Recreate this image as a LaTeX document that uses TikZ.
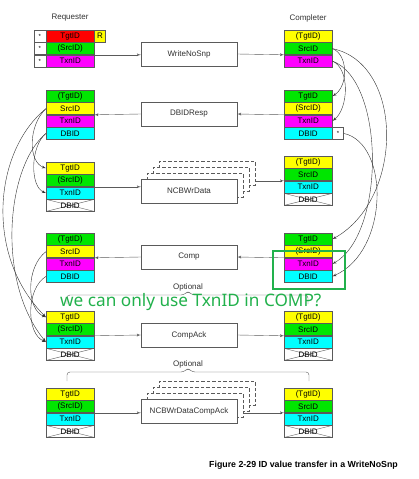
\documentclass[tikz,border=0pt]{standalone}
\usepackage{fontspec}
\setmainfont{Liberation Sans}
\newfontfamily\notefont{Noto Sans}
\usepackage{xcolor}
\usetikzlibrary{arrows,positioning,calc}
\definecolor{cellgray}{RGB}{90,90,90}
\definecolor{labelgray}{RGB}{50,50,50}
\definecolor{fldred}{RGB}{255,0,0}
\definecolor{fldyel}{RGB}{255,255,0}
\definecolor{fldgrn}{RGB}{0,230,0}
\definecolor{fldmag}{RGB}{255,0,255}
\definecolor{fldcyan}{RGB}{0,255,255}
\definecolor{notegreen}{RGB}{34,177,76}

\begin{document}
\begin{tikzpicture}[x=1pt,y=-1pt,>=latex',every node/.style={font=\fontsize{8}{9}\selectfont},
  fld/.style={draw=cellgray,minimum width=48pt,minimum height=12pt,inner sep=0pt},
  voidfld/.style={fld,fill=white,path picture={\draw[cellgray] (path picture bounding box.north west)--(path picture bounding box.south east) (path picture bounding box.south west)--(path picture bounding box.north east);}},
  starcell/.style={draw=cellgray,fill=white,minimum width=12pt,minimum height=12pt,inner sep=0pt,font=\fontsize{6}{6}\selectfont},
  msgbox/.style={draw=cellgray,fill=white,minimum width=96pt,minimum height=24pt,inner sep=0pt,text=labelgray},
  ghost/.style={msgbox,dash pattern=on 3.5pt off 2pt},
  flow/.style={->,cellgray},
  idlink/.style={->,black!80,thin}]
\useasboundingbox (0,0) rectangle (418,479);
% headings
\node[text=labelgray] (req) at (70,18) {Requester};
\node[text=labelgray] (cmp) at (308,18) {Completer};
% WriteNoSnp
\node[fld,fill=fldred,anchor=north west] (rq1a) at (46,30) {TgtID};
\node[fld,fill=fldgrn,below=0pt of rq1a] (rq1b) {(SrcID)};
\node[fld,fill=fldmag,below=0pt of rq1b] (rq1c) {TxnID};
\node[starcell,left=0pt of rq1a] (rq1sa) {*};
\node[starcell,left=0pt of rq1b] (rq1sb) {*};
\node[starcell,left=0pt of rq1c] (rq1sc) {*};
\node[starcell,fill=fldyel,minimum width=11pt,font=\fontsize{8}{9}\selectfont,right=0pt of rq1a] (rq1r) {R};
\node[fld,fill=fldyel,anchor=north west] (cp1a) at (284,30) {(TgtID)};
\node[fld,fill=fldgrn,below=0pt of cp1a] (cp1b) {SrcID};
\node[fld,fill=fldmag,below=0pt of cp1b] (cp1c) {TxnID};
\node[msgbox] (msg1) at (189,54) {WriteNoSnp};
\draw[flow](rq1b.south east)--(rq1b.south east -| msg1.west); \draw[flow](msg1.east)--(cp1c.north west);
% DBIDResp
\node[fld,fill=fldgrn,anchor=north west] (rq2a) at (46,90) {(TgtID)};
\node[fld,fill=fldyel,below=0pt of rq2a] (rq2b) {SrcID};
\node[fld,fill=fldmag,below=0pt of rq2b] (rq2c) {TxnID};
\node[fld,fill=fldcyan,below=0pt of rq2c] (rq2d) {DBID};
\node[fld,fill=fldgrn,anchor=north west] (cp2a) at (284,90) {TgtID};
\node[fld,fill=fldyel,below=0pt of cp2a] (cp2b) {(SrcID)};
\node[fld,fill=fldmag,below=0pt of cp2b] (cp2c) {TxnID};
\node[fld,fill=fldcyan,below=0pt of cp2c] (cp2d) {DBID};
\node[starcell,minimum width=11pt,right=0pt of cp2d] (cp2s) {*};
\node[msgbox] (msg2) at (189,114) {DBIDResp};
\draw[flow](cp2c.north west)--(msg2.east); \draw[flow](msg2.west)--(rq2c.north east);
% NCBWrData
\node[fld,fill=fldyel,anchor=north west] (rq3a) at (46,162) {TgtID};
\node[fld,fill=fldgrn,below=0pt of rq3a] (rq3b) {(SrcID)};
\node[fld,fill=fldcyan,below=0pt of rq3b] (rq3c) {TxnID};
\node[voidfld,below=0pt of rq3c] (rq3d) {DBID};
\node[fld,fill=fldyel,anchor=north west] (cp3a) at (284,156) {(TgtID)};
\node[fld,fill=fldgrn,below=0pt of cp3a] (cp3b) {SrcID};
\node[fld,fill=fldcyan,below=0pt of cp3b] (cp3c) {TxnID};
\node[voidfld,below=0pt of cp3c] (cp3d) {DBID};
\node[ghost] (msg3s3) at (207,173) {};
\node[ghost] (msg3s2) at (201,179) {};
\node[ghost] (msg3s1) at (195,185) {};
\node[msgbox] (msg3) at (189,191) {NCBWrData};
\draw[flow](rq3c.north east)--(rq3c.north east -| msg3.west); \draw[flow](cp3b.south west -| msg3s3.east)--(cp3b.south west);
% Comp
\node[fld,fill=fldgrn,anchor=north west] (rq4a) at (46,233) {(TgtID)};
\node[fld,fill=fldyel,below=0pt of rq4a] (rq4b) {SrcID};
\node[fld,fill=fldmag,below=0pt of rq4b] (rq4c) {TxnID};
\node[fld,fill=fldcyan,below=0pt of rq4c] (rq4d) {DBID};
\node[fld,fill=fldgrn,anchor=north west] (cp4a) at (284,233) {TgtID};
\node[fld,fill=fldyel,below=0pt of cp4a] (cp4b) {(SrcID)};
\node[fld,fill=fldmag,below=0pt of cp4b] (cp4c) {TxnID};
\node[fld,fill=fldcyan,below=0pt of cp4c] (cp4d) {DBID};
\node[msgbox] (msg4) at (189,257) {Comp};
\draw[flow](cp4c.north west)--(msg4.east); \draw[flow](msg4.west)--(rq4c.north east);
% CompAck
\node[fld,fill=fldyel,anchor=north west] (rq5a) at (46,311) {TgtID};
\node[fld,fill=fldgrn,below=0pt of rq5a] (rq5b) {(SrcID)};
\node[fld,fill=fldcyan,below=0pt of rq5b] (rq5c) {TxnID};
\node[voidfld,below=0pt of rq5c] (rq5d) {DBID};
\node[fld,fill=fldyel,anchor=north west] (cp5a) at (284,311) {(TgtID)};
\node[fld,fill=fldgrn,below=0pt of cp5a] (cp5b) {SrcID};
\node[fld,fill=fldcyan,below=0pt of cp5b] (cp5c) {TxnID};
\node[voidfld,below=0pt of cp5c] (cp5d) {DBID};
\node[msgbox] (msg5) at (189,335) {CompAck};
\draw[flow](rq5c.north east)--(msg5.west); \draw[flow](msg5.east)--(cp5c.north west);
% NCBWrDataCompAck
\node[fld,fill=fldyel,anchor=north west] (rq6a) at (46,388) {TgtID};
\node[fld,fill=fldgrn,below=0pt of rq6a] (rq6b) {(SrcID)};
\node[fld,fill=fldcyan,below=0pt of rq6b] (rq6c) {TxnID};
\node[voidfld,below=0pt of rq6c] (rq6d) {DBID};
\node[fld,fill=fldyel,anchor=north west] (cp6a) at (284,388) {(TgtID)};
\node[fld,fill=fldgrn,below=0pt of cp6a] (cp6b) {SrcID};
\node[fld,fill=fldcyan,below=0pt of cp6b] (cp6c) {TxnID};
\node[voidfld,below=0pt of cp6c] (cp6d) {DBID};
\node[ghost] (msg6s3) at (207,393) {};
\node[ghost] (msg6s2) at (201,399) {};
\node[ghost] (msg6s1) at (195,405) {};
\node[msgbox] (msg6) at (189,411) {NCBWrDataCompAck};
\draw[flow](rq6c.north east)--(rq6c.north east -| msg6.west); \draw[flow](cp6c.north west -| msg6s1.east)--(cp6c.north west);
% optional braces
\node[text=labelgray] (opt1) at (188,287) {Optional};
\draw[cellgray,rounded corners=3pt] (67,304)--(67,295)--(184,295)--(188,291)--(192,295)--(308,295)--(308,304);
\node[text=labelgray] (opt2) at (188,364) {Optional};
\draw[cellgray,rounded corners=3pt] (67,381)--(67,372)--(184,372)--(188,368)--(192,372)--(309,372)--(309,381);
% ID hand-over, requester side
\draw[idlink](rq2b.west) .. controls +(-18,17) and +(-18,-6) .. (rq3a.west);
\draw[idlink](rq2d.west) .. controls +(-16,13) and +(-16,-6) .. (rq3c.west);
\draw[idlink](rq2b.west) .. controls +(-52,42) and +(-62,-62) .. (rq5a.west);
\draw[idlink](rq2d.west) .. controls +(-40,33) and +(-50,-60) .. (rq5c.west);
\draw[idlink](rq4b.west) .. controls +(-20,15) and +(-20,-8) .. (rq5a.west);
\draw[idlink](rq4d.west) .. controls +(-20,12) and +(-20,-8) .. (rq5c.west);
% ID hand-over, completer side
\draw[idlink](cp1b.east) .. controls +(16,6) and +(16,-10) .. (cp2a.east);
\draw[idlink](cp1c.east) .. controls +(18,8) and +(16,-12) .. (cp2c.east);
\draw[idlink](cp1b.east) .. controls +(72,15) and +(72,-40) .. (cp4a.east);
\draw[idlink](cp1c.east) .. controls +(53,20) and +(53,-30) .. (cp4c.east);
\draw[idlink](cp2s.east) .. controls +(46,10) and +(57,-25) .. (cp4d.east);
% note
\node[draw=notegreen,line width=1.2pt,minimum width=72pt,minimum height=38pt,inner sep=0pt] (flag) at (309,270) {};
\node[text=notegreen,anchor=base west,inner sep=0pt,font=\notefont\fontsize{17.2}{19}\selectfont] (note) at (60,306) {we can only use TxnID in COMP?};
% caption
\node[anchor=east,inner sep=0pt,font=\bfseries\fontsize{8.8}{10}\selectfont] (cap) at (398,465) {Figure 2-29 ID value transfer in a WriteNoSnp};
\end{tikzpicture}
\end{document}
